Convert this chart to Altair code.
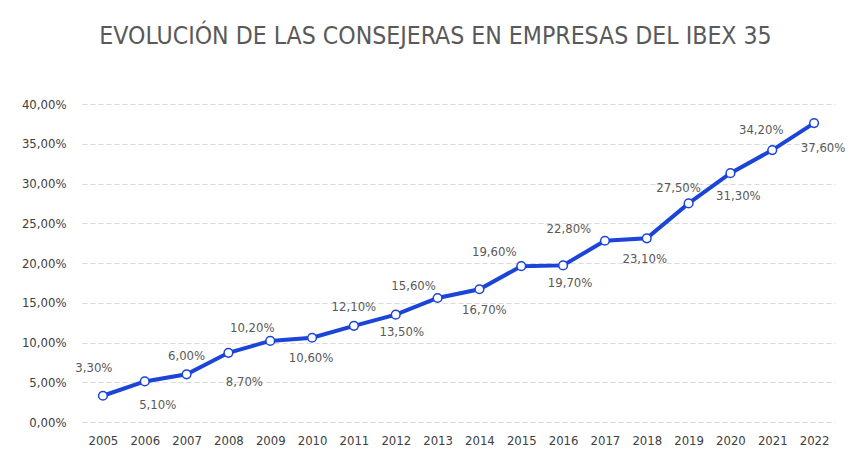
import altair as alt
import pandas as pd

years = list(range(2005, 2023))
values = [3.3, 5.1, 6.0, 8.7, 10.2, 10.6, 12.1, 13.5, 15.6, 16.7, 19.6, 19.7, 22.8, 23.1, 27.5, 31.3, 34.2, 37.6]
labels = [f"{v:.2f}%".replace(".", ",") for v in values]
# label nudges (pixels) relative to each point, as placed in the original chart
label_dx = [-9, 13, 0, 16, -18, -1, 0, 6, -24, 5, -27, 7, -36, -2, -10, 8, -11, 9]
label_dy = [-28, 24, -18, 29, -13, 20, -19, 17, -12, 21, -14, 18, -12, 21, -15, 23, -20, 25]

W, H = 753, 318
X_DOMAIN = [2004.5, 2022.5]
Y_DOMAIN = [0, 40]
px_per_year = W / (X_DOMAIN[1] - X_DOMAIN[0])
px_per_unit = H / (Y_DOMAIN[1] - Y_DOMAIN[0])

df = pd.DataFrame({"year": years, "value": values, "label": labels,
                   "ldx": label_dx, "ldy": label_dy})

BLUE = "#1b44d8"
FONT = "DejaVu Sans Condensed"

xscale = alt.Scale(domain=X_DOMAIN, nice=False, zero=False)
yscale = alt.Scale(domain=Y_DOMAIN, nice=False)

xaxis = alt.Axis(values=years, format="d", labelAngle=0, domain=False, ticks=False,
                 labelPadding=12, labelFontSize=13, labelColor="#404040",
                 labelFont=FONT, grid=False)
yaxis = alt.Axis(values=list(range(0, 41, 5)), domain=False, ticks=False, labelPadding=16,
                 labelFontSize=13, labelColor="#404040", labelFont=FONT,
                 labelExpr="replace(format(datum.value, '.2f'), '.', ',') + '%'",
                 gridColor="#d9d9d9", gridDash=[5, 3], gridWidth=1)

x = alt.X("year:Q", title=None, scale=xscale, axis=xaxis)
y = alt.Y("value:Q", title=None, scale=yscale, axis=yaxis)

base = alt.Chart(df)
line = base.mark_line(color=BLUE, strokeWidth=4).encode(x=x, y=y)
pts = base.mark_point(filled=True, fill="white", stroke=BLUE, strokeWidth=1.5, size=75, opacity=1).encode(x=x, y=y)
text = base.transform_calculate(
    lx=f"datum.year + datum.ldx / {px_per_year}",
    ly=f"datum.value - datum.ldy / {px_per_unit}",
).mark_text(fontSize=13, color="#595959", font=FONT, baseline="middle").encode(
    x=alt.X("lx:Q", title=None, scale=xscale, axis=xaxis),
    y=alt.Y("ly:Q", title=None, scale=yscale, axis=yaxis),
    text="label:N")

chart = alt.layer(line, pts, text).properties(
    width=W, height=H,
    autosize=alt.AutoSizeParams(type="none"),
    padding={"left": 82, "top": 104, "right": 27, "bottom": 40},
    title=alt.Title("EVOLUCIÓN DE LAS CONSEJERAS EN EMPRESAS DEL IBEX 35",
                    anchor="middle", frame="group", dx=-23, offset=24,
                    fontSize=24.6, font=FONT, fontWeight="normal", color="#595959",
                    baseline="bottom"),
).configure_view(stroke=None).configure_axis(labelFont=FONT)

chart.save("out.html", embed_options={"renderer": "svg", "actions": False})
